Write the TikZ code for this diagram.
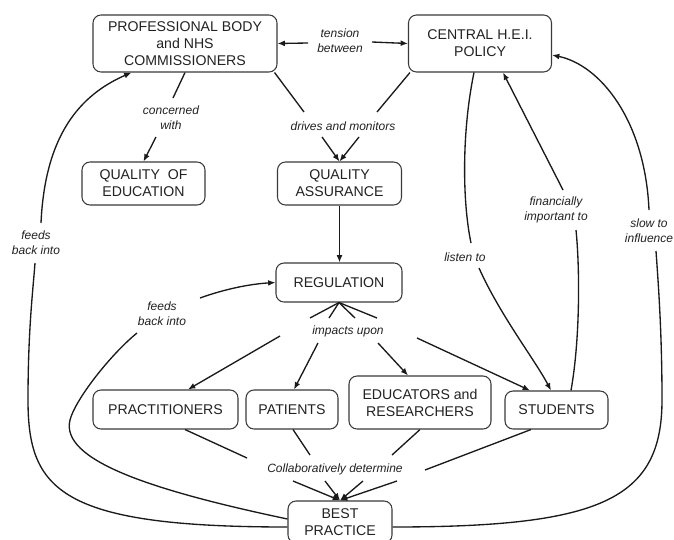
\documentclass[tikz,border=0pt]{standalone}
\usepackage{fontspec}
\setmainfont{Liberation Sans}
\usetikzlibrary{arrows.meta,calc}
\definecolor{linec}{HTML}{1A1A1A}
\definecolor{boxc}{HTML}{3A3A3A}
\definecolor{txt}{HTML}{222222}
\begin{document}
\begin{tikzpicture}[x=0.75pt,y=-0.75pt,
  box/.style={draw=boxc, line width=0.8pt, rounded corners=6pt, fill=white, align=center, inner sep=0pt, text=txt, font=\fontsize{10.6}{12.75}\selectfont},
  lbl/.style={align=center, inner sep=1pt, text=txt, font=\fontsize{9}{11.25}\selectfont\itshape},
  con/.style={line width=1pt, draw=linec},
  arr/.style={con, -{Latex[length=5.5pt,width=4.4pt]}}
]
\clip (0,0) rectangle (674,539);
\fill[white] (0,0) rectangle (674,539);

% concept boxes
\node[box, minimum width=138pt, minimum height=42.75pt] (prof) at (185,43.5) {PROFESSIONAL BODY\\and NHS\\COMMISSIONERS};
\node[box, minimum width=107.25pt, minimum height=42.75pt] (heip) at (480,43.5) {CENTRAL H.E.I.\\POLICY};
\node[box, minimum width=92.25pt, minimum height=32.25pt] (qoe) at (143.5,183.5) {QUALITY\ \ OF\\EDUCATION};
\node[box, minimum width=93pt, minimum height=32.25pt] (qa) at (339.5,183.5) {QUALITY\\ASSURANCE};
\node[box, minimum width=94.5pt, minimum height=29.25pt] (reg) at (339,282.5) {REGULATION};
\node[box, minimum width=108.75pt, minimum height=29.25pt] (prac) at (165.5,409.5) {PRACTITIONERS};
\node[box, minimum width=69pt, minimum height=29.25pt] (pat) at (292,409.5) {PATIENTS};
\node[box, minimum width=106.5pt, minimum height=39.75pt] (edu) at (420,402.5) {EDUCATORS and\\RESEARCHERS};
\node[box, minimum width=77.25pt, minimum height=28.5pt] (stu) at (556.5,410) {STUDENTS};
\node[box, minimum width=78pt, minimum height=31.5pt] (best) at (340,522) {BEST\\PRACTICE};

% linking phrases
\node[lbl] (lt) at (340,40.5) {tension\\between};
\node[lbl] (lc) at (171,117.5) {concerned\\with};
\node[lbl] (ld) at (343,126) {drives and monitors};
\node[lbl] (lfl) at (36,243) {feeds\\back into};
\node[lbl] (lfm) at (162,313.5) {feeds\\back into};
\node[lbl] (li) at (348,331) {impacts upon};
\node[lbl] (lli) at (465,257) {listen to};
\node[lbl] (lfi) at (556,210) {financially\\important to};
\node[lbl] (lsl) at (649,231) {slow to\\influence};
\node[lbl] (lco) at (335,469) {Collaboratively determine};

% free ends of connectors next to the linking phrases
\coordinate (t1) at (308,43);  \coordinate (t2) at (372,42);
\coordinate (c1) at (173,98);  \coordinate (c2) at (156,137);
\coordinate (d1) at (304,112); \coordinate (d2) at (377,112);
\coordinate (d3) at (322,137); \coordinate (d4) at (359,137);
\coordinate (i1) at (310,318); \coordinate (i2) at (329,318);
\coordinate (i3) at (355,318); \coordinate (i4) at (377,318);
\coordinate (io1) at (280,336); \coordinate (io2) at (318,343);
\coordinate (io3) at (378,343); \coordinate (io4) at (417,338);
\coordinate (k1) at (247,458); \coordinate (k2) at (310,455);
\coordinate (k3) at (392,455); \coordinate (k4) at (425,470);
\coordinate (ko1) at (293,481); \coordinate (ko2) at (325,481);
\coordinate (ko3) at (363,481); \coordinate (ko4) at (397,481);
\coordinate (fm1) at (137,333); \coordinate (fm2) at (200,298);
\coordinate (fl1) at (35,263); \coordinate (fl2) at (41,223);
\coordinate (s1) at (656,251); \coordinate (s2) at (649,210);
\coordinate (l1) at (471,243); \coordinate (l2) at (479,268);
\coordinate (f1) at (576,230); \coordinate (f2) at (563,190);

% tension between
\draw[arr] (t1) -- (prof.east);
\draw[arr] (t2) -- (heip.west);
% concerned with
\draw[con] (prof.south) -- (c1);
\draw[arr] (c2) -- (qoe.north);
% drives and monitors
\draw[con] ([shift={(-3,0)}]prof.south east) -- (d1);
\draw[con] ([shift={(2,0)}]heip.south west) -- (d2);
\draw[arr] (d3) -- (qa.north);
\draw[arr] (d4) -- (qa.north);
% QA -> regulation
\draw[arr] (qa.south) -- (qa.south |- reg.north);
% impacts upon
\foreach \p in {i1,i2,i3,i4} \draw[con] (reg.south) -- (\p);
\draw[arr] (io1) -- ([shift={(22.5,0)}]prac.north);
\draw[arr] (io2) -- ([shift={(2,0)}]pat.north);
\draw[arr] (io3) -- ([shift={(-12,0)}]edu.north);
\draw[arr] (io4) -- ([shift={(-26.5,0)}]stu.north);
% collaboratively determine
\draw[con] ([shift={(19.5,0)}]prac.south) -- (k1);
\draw[con] ([shift={(1,0)}]pat.south) -- (k2);
\draw[con] (edu.south) -- (k3);
\draw[con] ([shift={(-25.5,0)}]stu.south) -- (k4);
\foreach \p in {ko1,ko2,ko3,ko4} \draw[arr] (\p) -- (best.north);
% feeds back into (regulation)
\draw[con] ([shift={(0,-3)}]best.west) .. controls (150,490) and (60,460) .. (70,420)
  .. controls (75,400) and (110,355) .. (fm1);
\draw[arr] (fm2) .. controls (225,289) and (250,284) .. (reg.west);
% feeds back into (professional body)
\draw[con] ([shift={(0,5)}]best.west) .. controls (60,527) and (28,490) .. (28,400)
  .. controls (28,330) and (33,290) .. (fl1);
\draw[arr] (fl2) .. controls (45,135) and (80,95) .. ([shift={(39,0)}]prof.south west);
% slow to influence
\draw[con] ([shift={(0,5)}]best.east) .. controls (600,527) and (662,500) .. (662,400)
  .. controls (662,330) and (658,280) .. (s1);
\draw[arr] (s2) .. controls (645,120) and (600,65) .. ([shift={(0,11.5)}]heip.east);
% listen to
\draw[con] ([shift={(-6,0)}]heip.south) .. controls (462,130) and (462,200) .. (l1);
\draw[arr] (l2) .. controls (500,315) and (535,360) .. ([shift={(-5.5,0)}]stu.north);
% financially important to
\draw[con] ([shift={(14.5,0)}]stu.north) .. controls (580,340) and (580,270) .. (f1);
\draw[arr] (f2) -- ([shift={(23,0)}]heip.south);
\end{tikzpicture}
\end{document}
